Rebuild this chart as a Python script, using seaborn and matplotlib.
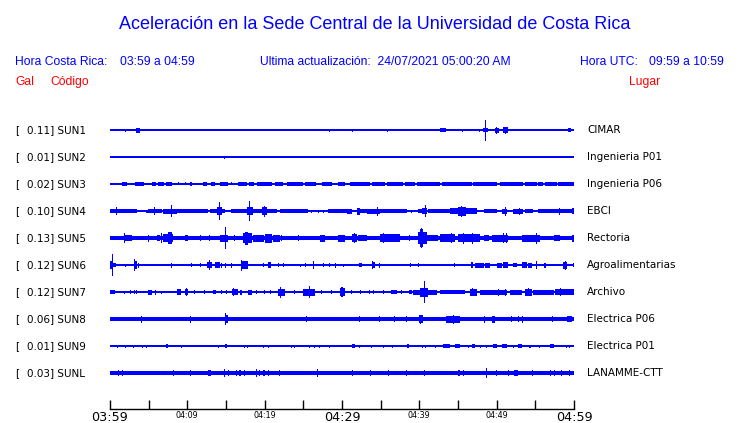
import matplotlib
matplotlib.use("Agg")
import matplotlib.pyplot as plt
import seaborn as sns

# station info, top to bottom
codes = ["SUN1", "SUN2", "SUN3", "SUN4", "SUN5", "SUN6", "SUN7", "SUN8", "SUN9", "SUNL"]
peaks = ["0.11", "0.01", "0.02", "0.10", "0.13", "0.12", "0.12", "0.06", "0.01", "0.03"]
places = ["CIMAR", "Ingenieria P01", "Ingenieria P06", "EBCI", "Rectoria", "Agroalimentarias",
          "Archivo", "Electrica P06", "Electrica P01", "LANAMME-CTT"]

# background half-thickness of every trace (px)
base_amp = [0.7, 0.7, 0.8, 0.8, 2.2, 0.7, 0.7, 2.4, 0.7, 2.0]

# bursts: (start minute, end minute, half amplitude px), minutes after 03:59
sun1 = [(2.0, 2.0, 1.5), (3.4, 3.9, 2.5), (10.25, 10.25, 1), (11.16, 11.16, 1), (28.36, 28.36, 1.5),
        (31.33, 31.33, 1.5), (32.37, 32.37, 1), (33.2, 33.2, 1), (33.95, 33.95, 1), (35.9, 35.9, 1.5),
        (42.7, 43.4, 2), (45.56, 45.56, 1.5), (46.1, 46.1, 1), (47.75, 47.75, 1.5), (48.2, 48.9, 2),
        (48.53, 48.53, 10.5), (49.8, 50.3, 2.5), (50.0, 50.0, 3.5), (50.8, 51.5, 3), (51.1, 51.1, 3.5),
        (51.7, 51.7, 1), (59.2, 59.6, 2)]
sun2 = [(14.87, 14.87, 1.5), (28.36, 28.36, 1.2), (54.3, 54.3, 1.2)]
sun3 = [(1.6, 2.2, 2), (3.2, 4.4, 2), (5.4, 6.0, 2), (6.25, 6.95, 2), (7.2, 8.0, 2), (8.9, 8.9, 1.5),
        (9.7, 9.7, 1.5), (10.3, 10.65, 2), (12.05, 12.5, 2), (13.05, 13.6, 2), (14.2, 15.3, 2),
        (15.75, 15.75, 1.5), (16.6, 17.7, 2), (18.0, 18.6, 2), (19.0, 20.9, 2), (21.35, 22.4, 2),
        (22.85, 25.0, 2), (25.2, 26.7, 2), (27.4, 28.7, 2), (29.5, 30.4, 2), (31.0, 33.6, 2),
        (33.85, 35.55, 2), (35.8, 37.9, 2), (38.15, 39.45, 2), (39.65, 42.65, 2.2), (42.9, 46.8, 2.2),
        (47.0, 50.0, 2.2), (50.45, 53.45, 2.2), (53.65, 55.2, 2.2), (55.35, 56.0, 2.2),
        (56.25, 57.75, 2.2), (57.95, 60.0, 2.2)]
sun4 = [(0.0, 3.45, 2), (0.86, 0.86, 4), (4.6, 4.95, 1.5), (4.95, 6.7, 2), (5.8, 5.8, 4), (6.9, 8.6, 2.5),
        (8.0, 8.0, 6), (8.6, 12.7, 2), (12.9, 14.9, 2), (13.8, 14.5, 4), (14.14, 14.14, 9),
        (15.65, 19.6, 2), (17.7, 18.55, 4), (18.1, 18.1, 10), (19.6, 20.25, 4), (19.96, 19.96, 5.5),
        (20.25, 21.55, 2), (22.0, 25.65, 2), (26.1, 26.1, 1.5), (26.95, 26.95, 1.5), (27.6, 27.6, 1.5),
        (28.2, 31.25, 2), (30.6, 31.25, 2.5), (31.9, 32.35, 3.5), (32.35, 33.2, 2), (33.2, 34.9, 2.5),
        (34.6, 34.6, 4.5), (34.9, 38.35, 2), (39.0, 39.0, 1.5), (39.85, 40.3, 2), (40.4, 41.0, 3),
        (40.82, 40.82, 6), (41.15, 43.95, 2), (43.95, 47.4, 3), (45.0, 46.0, 4.5), (45.5, 45.5, 5.5),
        (48.3, 50.0, 2), (50.65, 51.3, 2.5), (51.08, 51.08, 4.5), (52.15, 53.45, 2.5), (53.0, 53.0, 3.5),
        (53.65, 54.75, 2), (55.4, 60.0, 2), (58.1, 58.1, 3.5), (59.7, 60.0, 3)]
sun5 = [(1.85, 1.85, 5.3), (1.95, 2.8, 3), (4.96, 4.96, 3.5), (6.1, 6.5, 3), (6.68, 6.68, 5), (6.9, 8.2, 4),
        (7.5, 8.0, 6), (9.7, 10.15, 3), (11.64, 11.64, 3), (12.93, 12.93, 3), (14.2, 15.3, 3.5),
        (14.91, 14.91, 11), (16.16, 16.16, 3), (17.25, 18.3, 5), (17.5, 17.9, 6.5), (18.55, 19.85, 3.5),
        (20.05, 20.9, 4.5), (21.1, 22.0, 3.5), (22.2, 22.2, 3), (24.35, 24.35, 3), (27.15, 27.8, 3.5),
        (29.5, 30.4, 3.5), (31.25, 31.9, 4), (31.6, 31.6, 4.8), (32.1, 33.2, 3), (34.9, 37.5, 3.8),
        (35.35, 35.35, 5), (38.7, 38.7, 3), (39.85, 40.95, 6), (40.1, 40.5, 9), (40.3, 40.3, 10),
        (40.95, 42.45, 3), (42.65, 44.6, 4), (44.1, 44.1, 5), (45.05, 47.85, 4.2), (45.7, 45.7, 5.5),
        (46.9, 46.9, 5.5), (48.3, 49.0, 3), (49.35, 51.5, 3.5), (50.86, 50.86, 5), (51.3, 51.3, 5),
        (53.25, 55.6, 3.5), (55.18, 55.18, 5.5), (57.35, 58.2, 3), (59.7, 60.0, 3.5)]
sun6 = [(0.0, 0.45, 4), (0.3, 0.3, 11), (0.45, 0.75, 2), (2.03, 2.03, 1.5), (3.1, 3.45, 4), (3.23, 3.23, 6),
        (3.66, 3.66, 2.5), (7.98, 7.98, 2.5), (10.56, 10.56, 2), (11.64, 11.64, 2), (12.5, 13.15, 3),
        (12.84, 12.84, 5), (13.6, 14.2, 3), (14.44, 14.44, 2.5), (14.96, 14.96, 2.5), (15.65, 15.65, 2.5),
        (16.95, 17.9, 4), (17.03, 17.03, 5.5), (19.83, 19.83, 2), (20.4, 20.8, 3), (21.77, 21.77, 2),
        (22.41, 22.41, 2), (24.57, 24.57, 1.5), (25.22, 25.22, 2), (26.29, 26.29, 4), (27.59, 27.59, 2),
        (28.32, 28.32, 2), (29.1, 29.1, 2.5), (30.17, 30.17, 1.5), (32.25, 32.55, 2), (33.85, 34.3, 3),
        (33.97, 33.97, 4), (34.91, 34.91, 2.5), (38.88, 38.88, 2), (39.91, 39.91, 2), (44.61, 44.61, 2),
        (45.9, 45.9, 1.2), (46.7, 47.0, 3), (47.2, 48.3, 2.5), (48.5, 49.15, 2.5), (50.0, 50.65, 2.5),
        (50.85, 51.5, 3), (52.15, 52.6, 2), (53.25, 53.9, 3), (54.1, 54.55, 2.5), (55.18, 55.18, 4),
        (56.25, 56.25, 2.5), (58.6, 59.05, 3.5), (58.85, 58.85, 4.5), (59.9, 59.9, 2)]
sun7 = [(0.0, 0.65, 2), (1.85, 1.85, 1.5), (2.59, 2.59, 2), (3.14, 3.14, 2), (3.49, 3.49, 2), (4.96, 5.4, 2.5),
        (5.82, 5.82, 2.5), (6.68, 6.68, 1.5), (8.6, 9.2, 3), (9.7, 10.15, 3), (9.9, 9.9, 4),
        (10.99, 10.99, 2), (12.28, 12.28, 2), (13.35, 13.7, 2), (14.44, 14.44, 2), (15.09, 15.09, 2),
        (15.75, 16.6, 3), (16.0, 16.0, 4), (16.8, 17.1, 2.5), (17.8, 18.3, 2.5), (18.97, 18.97, 2),
        (20.04, 20.04, 2), (20.69, 20.69, 2), (21.75, 22.65, 3.5), (22.11, 22.11, 5.5), (23.92, 23.92, 2),
        (25.0, 26.5, 3.5), (25.78, 25.78, 6), (27.38, 27.38, 2), (28.58, 28.58, 2), (29.75, 30.4, 4),
        (30.0, 30.0, 5), (31.25, 31.25, 2), (32.33, 32.33, 2), (33.62, 33.62, 2), (34.05, 34.05, 2),
        (35.35, 35.35, 2), (36.4, 37.05, 2), (37.72, 37.72, 2), (38.6, 39.0, 2), (39.2, 40.1, 2.5),
        (40.1, 41.15, 4.5), (40.73, 40.73, 11), (41.15, 42.25, 2.5), (42.65, 45.9, 2), (46.55, 47.4, 3.5),
        (46.9, 46.9, 4), (47.85, 51.3, 2.5), (50.22, 50.22, 3.5), (51.08, 51.08, 3.5), (51.75, 53.25, 2.5),
        (53.65, 54.55, 3.5), (54.09, 54.09, 4), (54.75, 57.35, 2.5), (57.55, 60.0, 3), (58.19, 58.19, 4)]
sun8 = [(4.01, 4.01, 3.5), (10.47, 10.47, 3.5), (14.85, 15.3, 4), (14.96, 14.96, 6), (25.43, 25.43, 3),
        (32.24, 32.24, 3), (34.91, 34.91, 3), (36.85, 36.85, 3), (38.36, 38.36, 3), (40.0, 40.5, 4),
        (40.2, 40.2, 4.5), (43.5, 45.25, 3.5), (44.4, 44.4, 4.5), (48.49, 48.49, 3.5), (49.35, 49.8, 3.5),
        (51.94, 51.94, 3), (52.8, 52.8, 3), (53.36, 53.36, 3.5), (57.2, 57.2, 3), (59.05, 59.7, 3)]
sun9 = [(0.95, 0.95, 1.5), (2.03, 2.03, 1.5), (3.02, 3.02, 1.5), (4.18, 4.18, 1.5), (4.7, 4.7, 1.5),
        (7.3, 7.55, 2), (9.27, 9.27, 1.5), (14.0, 14.0, 1.5), (14.85, 15.1, 2.2), (17.37, 17.37, 1.5),
        (17.8, 17.8, 1.5), (19.83, 19.83, 1.5), (20.47, 20.47, 1.5), (23.41, 23.41, 1.5), (23.84, 23.84, 1.5),
        (25.86, 25.86, 1.5), (26.42, 26.42, 1.5), (27.07, 27.07, 1.5), (28.32, 28.32, 1.5), (31.25, 31.7, 2),
        (32.24, 32.24, 1.5), (33.84, 33.84, 1.5), (35.35, 35.35, 1.5), (36.55, 36.55, 1.5), (38.35, 38.6, 2),
        (40.43, 40.43, 1.5), (40.86, 40.86, 1.5), (42.03, 42.03, 1.5), (43.1, 43.95, 2), (44.6, 45.25, 2),
        (46.34, 46.34, 1.5), (46.75, 47.2, 1.8), (47.85, 47.85, 1.5), (48.71, 48.71, 1.5), (49.55, 50.0, 2),
        (50.65, 51.3, 2), (52.16, 52.16, 1.5), (52.8, 53.25, 2), (54.31, 54.31, 1.5), (55.6, 55.6, 1.5),
        (56.9, 57.35, 2), (59.05, 59.05, 1.5), (59.48, 59.48, 1.5)]
sunl = [(1.16, 1.16, 3), (1.59, 1.59, 3), (8.19, 8.19, 3), (10.47, 10.47, 3), (12.7, 13.05, 3),
        (14.87, 14.87, 4), (15.3, 15.3, 3), (16.38, 16.38, 3), (16.81, 16.81, 3), (17.37, 17.37, 3),
        (18.97, 18.97, 4), (19.27, 19.27, 3), (19.83, 20.04, 3), (20.47, 20.47, 3), (21.98, 21.98, 3),
        (26.81, 26.81, 4), (31.38, 31.38, 3), (33.71, 33.71, 3), (35.99, 35.99, 3), (38.36, 38.36, 3),
        (40.73, 40.73, 3), (45.04, 45.26, 3), (45.69, 45.69, 3), (48.71, 48.71, 5), (50.0, 50.0, 3),
        (51.5, 51.5, 3), (52.24, 52.8, 3), (54.66, 54.66, 3), (56.99, 56.99, 3), (57.54, 57.54, 3),
        (58.41, 58.41, 3), (59.48, 59.48, 3)]
events = [sun1, sun2, sun3, sun4, sun5, sun6, sun7, sun8, sun9, sunl]

tick_minutes = list(range(0, 61, 5))
tick_text = ["03:59", "", "04:09", "", "04:19", "", "04:29", "", "04:39", "", "04:49", "", "04:59"]

BLUE = "#0000ff"
RED = "#ff0000"
W, H = 740, 423

sns.set_theme(style="white")
plt.rcParams["font.family"] = ["DejaVu Sans"]

fig = plt.figure(figsize=(W / 100, H / 100), dpi=100)
fig.patch.set_facecolor("white")
# axes laid out in pixel units so trace offsets read like the original page
ax = fig.add_axes([110 / W, (H - 409) / H, 464 / W, (409 - 115) / H])
ax.set_facecolor("white")
ax.set_xlim(0, 60)
ax.set_ylim(409, 115)

def px(x, y):
    return x / W, 1 - y / H

for i, code in enumerate(codes):
    y0 = 130 + 27 * i
    ax.bar(0, 2 * base_amp[i], width=60, bottom=y0 - base_amp[i], align="edge",
           color=BLUE, linewidth=0)
    for t0, t1, a in events[i]:
        w = max(t1 - t0, 0.13)
        ax.bar(t0 if t1 > t0 else t0 - w / 2, 2 * a, width=w, bottom=y0 - a, align="edge",
               color=BLUE, linewidth=0)
    fig.text(*px(15, y0), "[", fontsize=7.5, va="center", color="black")
    fig.text(*px(27, y0), f"{peaks[i]}] {code}", fontsize=7.5, va="center", color="black")
    fig.text(*px(587, y0), places[i], fontsize=7.5, va="center", color="black")

sns.despine(ax=ax, left=True, top=True, right=True)
ax.spines["bottom"].set_color("black")
ax.spines["bottom"].set_linewidth(1)
ax.set_yticks([])
ax.set_xticks(tick_minutes)
ax.set_xticklabels(tick_text)
ax.tick_params(axis="x", direction="in", length=6.5, width=1, color="black", pad=1.5,
               bottom=True, labelcolor="black")
for lbl, txt in zip(ax.get_xticklabels(), tick_text):
    lbl.set_fontsize(9.2 if txt in ("03:59", "04:29", "04:59") else 5.8)
ax.grid(False)

hdr = dict(family=["Liberation Sans", "DejaVu Sans"])
fs = 8.7
fig.text(*px(375, 29), "Aceleración en la Sede Central de la Universidad de Costa Rica",
         fontsize=13, color=BLUE, ha="center", va="baseline", **hdr)
fig.text(*px(15, 65), "Hora Costa Rica:", fontsize=fs, color=BLUE, va="baseline", **hdr)
fig.text(*px(120, 65), "03:59 a 04:59", fontsize=fs, color=BLUE, va="baseline", **hdr)
fig.text(*px(260, 65), "Ultima actualización:  24/07/2021 05:00:20 AM", fontsize=fs, color=BLUE,
         va="baseline", **hdr)
fig.text(*px(580, 65), "Hora UTC:", fontsize=fs, color=BLUE, va="baseline", **hdr)
fig.text(*px(724, 65), "09:59 a 10:59", fontsize=fs, color=BLUE, ha="right", va="baseline", **hdr)
fig.text(*px(15, 85), "Gal", fontsize=fs, color=RED, va="baseline", **hdr)
fig.text(*px(50, 85), "Código", fontsize=fs, color=RED, va="baseline", **hdr)
fig.text(*px(629, 85), "Lugar", fontsize=fs, color=RED, va="baseline", **hdr)

fig.savefig("out.png", dpi=100, facecolor="white")
